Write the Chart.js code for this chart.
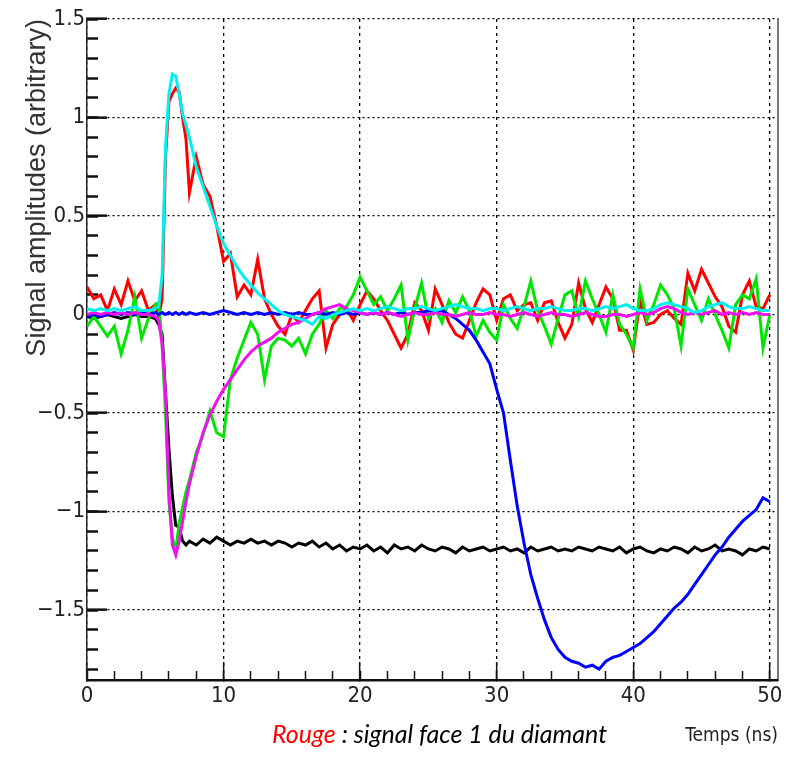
<!DOCTYPE html>
<html>
<head>
<meta charset="utf-8">
<title>Signal amplitudes</title>
<script src="https://cdn.jsdelivr.net/npm/chart.js@4.4.1/dist/chart.umd.min.js"></script>
<style>
  body { margin: 0; background: #fff; }
  #wrap { position: relative; width: 789px; height: 757px; }
  #caption {
    position: absolute; left: 272px; top: 718px;
    font-family: Lato, 'Open Sans', sans-serif; font-style: italic;
    font-size: 25px; line-height: 30px; color: #000; white-space: nowrap;
  }
  #caption .rouge { color: #ff0000; }
</style>
</head>
<body>
<div id="wrap">
  <canvas id="chart" width="789" height="757"></canvas>
  <div id="caption"><span class="rouge">Rouge</span> : signal face 1 du diamant</div>
</div>
<script>
// time in ns (finer around the edge at 5-7.5 ns)
var temps = [0, 0.5, 1, 1.5, 2, 2.5, 3, 3.5, 4, 4.5, 5,
  5.25, 5.5, 5.75, 6, 6.25, 6.5, 6.75, 7, 7.25, 7.5,
  8, 8.5, 9, 9.5, 10, 10.5, 11, 11.5, 12, 12.5, 13, 13.5, 14, 14.5, 15, 15.5, 16, 16.5, 17, 17.5, 18, 18.5, 19, 19.5, 20,
  20.5, 21, 21.5, 22, 22.5, 23, 23.5, 24, 24.5, 25,
  25.5, 26, 26.5, 27, 27.5, 28, 28.5, 29, 29.5, 30,
  30.5, 31, 31.5, 32, 32.5, 33, 33.5, 34, 34.5, 35,
  35.5, 36, 36.5, 37, 37.5, 38, 38.5, 39, 39.5, 40,
  40.5, 41, 41.5, 42, 42.5, 43, 43.5, 44, 44.5, 45,
  45.5, 46, 46.5, 47, 47.5, 48, 48.5, 49, 49.5, 50];

var rouge = [0.14, 0.08, 0.10, 0.02, 0.13, 0.05, 0.17, 0.07, 0.12, 0.02, 0.05,
  -0.01, 0.08, 0.80, 1.08, 1.12, 1.15, 1.13, 1.00, 0.89, 0.62,
  0.80, 0.66, 0.60, 0.45, 0.27, 0.31, 0.09, 0.15, 0.10, 0.28, 0.08, 0.00, -0.06, -0.10, 0.00, -0.04, 0.02, 0.08, 0.12, -0.17, -0.05, 0.00, 0.03, -0.03, 0.05,
  0.12, 0.08, 0.02, -0.03, -0.10, -0.17, -0.10, 0.06, 0.02, -0.08,
  0.13, 0.05, -0.04, -0.10, -0.12, -0.03, 0.06, 0.13, 0.10, -0.03,
  0.08, 0.10, 0.02, 0.05, 0.06, -0.03, 0.06, 0.07, -0.04, -0.12,
  -0.05, 0.16, 0.03, -0.04, 0.05, 0.14, 0.08, -0.08, -0.08, -0.18,
  0.07, -0.05, -0.04, 0.00, 0.02, -0.02, -0.05, 0.21, 0.12, 0.23,
  0.16, 0.09, 0.04, -0.06, -0.09, 0.10, 0.17, 0.04, 0.03, 0.10];

var vert = [-0.06, -0.01, -0.06, -0.11, -0.06, -0.20, -0.08, 0.09, -0.12, -0.02, 0.05,
  0.06, -0.15, -0.50, -0.95, -1.13, -1.20, -1.06, -0.98, -0.90, -0.84,
  -0.70, -0.61, -0.49, -0.60, -0.62, -0.33, -0.22, -0.13, -0.04, -0.10, -0.33, -0.16, -0.12, -0.13, -0.16, -0.12, -0.20, -0.10, -0.05, 0.02, -0.02, 0.03, 0.04, 0.10, 0.19,
  0.12, 0.05, 0.09, 0.02, 0.08, 0.15, -0.13, 0.03, 0.16, -0.02,
  0.03, -0.04, 0.07, 0.01, 0.09, 0.02, -0.11, -0.03, -0.09, -0.13,
  0.05, -0.02, -0.07, 0.04, 0.17, 0.02, -0.06, -0.15, -0.02, 0.10,
  0.12, -0.01, 0.17, 0.08, 0.00, -0.09, 0.10, -0.05, -0.10, -0.17,
  0.13, -0.03, 0.05, 0.15, 0.10, 0.03, -0.16, 0.13, 0.05, -0.03,
  0.08, 0.00, -0.08, -0.17, 0.05, 0.10, 0.08, 0.18, -0.17, 0.00];

var noir = [-0.01, -0.02, -0.01, 0.00, -0.01, -0.02, -0.01, 0.00, -0.01, -0.01, -0.02,
  -0.05, -0.10, -0.40, -0.68, -0.92, -1.07, -1.08, -1.15, -1.17, -1.15,
  -1.17, -1.14, -1.16, -1.13, -1.15, -1.17, -1.15, -1.16, -1.14, -1.16, -1.15, -1.17, -1.15, -1.16, -1.18, -1.16, -1.17, -1.15, -1.18, -1.16, -1.19, -1.17, -1.20, -1.18, -1.19,
  -1.17, -1.20, -1.18, -1.21, -1.17, -1.19, -1.18, -1.20, -1.17, -1.19,
  -1.20, -1.18, -1.19, -1.21, -1.18, -1.20, -1.19, -1.18, -1.20, -1.19,
  -1.18, -1.20, -1.19, -1.21, -1.18, -1.20, -1.19, -1.18, -1.20, -1.19,
  -1.20, -1.18, -1.19, -1.20, -1.18, -1.19, -1.20, -1.18, -1.21, -1.19,
  -1.18, -1.20, -1.21, -1.19, -1.20, -1.18, -1.19, -1.21, -1.18, -1.20,
  -1.19, -1.17, -1.20, -1.19, -1.20, -1.22, -1.19, -1.20, -1.18, -1.19];

var bleu = [-0.01, 0.00, -0.01, 0.00, 0.01, 0.00, 0.01, 0.00, 0.01, 0.00, 0.01,
  0.00, 0.01, 0.00, 0.01, 0.00, 0.01, 0.00, 0.01, 0.00, 0.01,
  0.00, 0.01, 0.00, 0.01, 0.02, 0.01, 0.00, 0.01, 0.00, 0.01, 0.00, 0.01, 0.00, 0.01, 0.00, 0.01, 0.00, 0.00, 0.01, 0.00, 0.01, 0.00, 0.01, 0.00, 0.01,
  0.00, 0.01, 0.00, 0.01, 0.00, 0.01, 0.00, 0.01, 0.01, 0.02,
  0.01, 0.02, 0.00, -0.02, -0.05, -0.08, -0.13, -0.19, -0.25, -0.38,
  -0.50, -0.74, -0.97, -1.16, -1.32, -1.44, -1.55, -1.64, -1.70, -1.74,
  -1.76, -1.77, -1.79, -1.78, -1.80, -1.76, -1.74, -1.73, -1.71, -1.69,
  -1.67, -1.64, -1.61, -1.57, -1.53, -1.49, -1.46, -1.42, -1.37, -1.32,
  -1.27, -1.22, -1.18, -1.13, -1.09, -1.05, -1.02, -0.99, -0.93, -0.95];

var magenta = [0.00, 0.01, 0.00, 0.01, 0.00, 0.01, 0.00, 0.01, 0.00, 0.00, -0.01,
  -0.03, -0.15, -0.40, -0.90, -1.17, -1.22, -1.15, -1.05, -0.95, -0.86,
  -0.72, -0.60, -0.51, -0.44, -0.38, -0.33, -0.28, -0.23, -0.19, -0.16, -0.14, -0.12, -0.09, -0.07, -0.05, -0.04, -0.02, 0.00, 0.01, 0.03, 0.04, 0.05, 0.03, 0.02, 0.01,
  0.00, 0.01, 0.00, 0.01, 0.00, -0.01, 0.00, 0.01, 0.00, 0.00,
  0.01, 0.00, 0.00, -0.01, 0.00, 0.01, 0.00, 0.00, 0.01, 0.00,
  0.00, -0.01, 0.00, 0.01, 0.00, -0.01, 0.00, 0.01, 0.00, 0.00,
  -0.01, 0.00, 0.01, 0.00, -0.01, -0.01, 0.00, 0.00, -0.01, 0.00,
  0.01, 0.00, 0.01, 0.03, 0.04, 0.03, 0.01, 0.00, 0.01, 0.00,
  0.01, 0.02, 0.00, 0.01, 0.00, 0.01, 0.00, 0.01, 0.00, 0.00];

var cyan = [0.03, 0.02, 0.03, 0.02, 0.03, 0.02, 0.03, 0.04, 0.02, 0.02, 0.03,
  0.04, 0.20, 0.85, 1.12, 1.22, 1.21, 1.12, 1.02, 0.96, 0.90,
  0.75, 0.65, 0.55, 0.45, 0.36, 0.30, 0.24, 0.19, 0.15, 0.11, 0.08, 0.05, 0.02, 0.00, -0.01, -0.02, -0.03, -0.05, -0.01, -0.02, 0.00, 0.01, 0.02, 0.03, 0.02,
  0.03, 0.02, 0.03, 0.04, 0.03, 0.02, 0.03, 0.03, 0.04, 0.03,
  0.02, 0.03, 0.04, 0.05, 0.04, 0.03, 0.03, 0.02, 0.03, 0.03,
  0.02, 0.03, 0.04, 0.03, 0.02, 0.03, 0.03, 0.04, 0.03, 0.02,
  0.02, 0.03, 0.03, 0.02, 0.03, 0.04, 0.03, 0.04, 0.05, 0.03,
  0.02, 0.02, 0.03, 0.05, 0.06, 0.05, 0.04, 0.03, 0.01, 0.02,
  0.04, 0.05, 0.06, 0.04, 0.03, 0.03, 0.04, 0.03, 0.02, 0.02];

var xMin = 0, xMax = 50.6;
var yMin = -1.855, yMax = 1.5;
var tickFont = { family: "'Liberation Sans Narrow', 'DejaVu Sans Condensed', sans-serif", size: 22 };

function points(values) {
  return temps.map(function (t, i) { return { x: t, y: values[i] }; });
}

function serie(label, values, color) {
  return {
    label: label,
    data: points(values),
    borderColor: color,
    borderWidth: 3,
    pointRadius: 0,
    tension: 0,
    fill: false
  };
}

function fmtY(v) {
  if (Math.abs(v) < 1e-9) return '0';
  return v < 0 ? '\u2212' + Math.abs(v) : String(v);
}

// keep the plot frame where it is in the picture
function fixWidth(w) {
  return function (s) { s.width = w; s.paddingTop = 0; s.paddingBottom = 0; };
}
function fixHeight(h) {
  return function (s) { s.height = h; s.paddingLeft = 0; s.paddingRight = 0; };
}

var ctx = document.getElementById('chart').getContext('2d');
var chart = new Chart(ctx, {
  type: 'line',
  data: {
    // first dataset is drawn on top
    datasets: [
      serie('cyan', cyan, '#00f0f0'),
      serie('magenta', magenta, '#f010f0'),
      serie('bleu', bleu, '#0000ff'),
      serie('vert', vert, '#00e600'),
      serie('rouge', rouge, '#ff0000'),
      serie('noir', noir, '#000000')
    ]
  },
  options: {
    responsive: false,
    animation: false,
    devicePixelRatio: 1,
    layout: { padding: { left: 0, right: 11, top: 19, bottom: 0 } },
    plugins: {
      legend: { display: false },
      tooltip: { enabled: false }
    },
    scales: {
      xMinor: {
        type: 'linear', position: 'bottom', weight: 0, min: xMin, max: xMax,
        ticks: { display: false, stepSize: 2, includeBounds: false },
        grid: { drawOnChartArea: false, tickLength: -9, tickWidth: 1.5, tickColor: '#111' },
        border: { display: false },
        afterFit: fixHeight(0)
      },
      yMinor: {
        type: 'linear', position: 'left', weight: 0, min: yMin, max: yMax,
        ticks: { display: false, stepSize: 0.1, includeBounds: false },
        grid: { drawOnChartArea: false, tickLength: -11, tickWidth: 2.5, tickColor: '#111' },
        border: { display: false },
        afterFit: fixWidth(0)
      },
      yRight: {
        type: 'linear', position: 'right', weight: 0, min: yMin, max: yMax,
        ticks: { display: false },
        grid: { display: false, drawTicks: false },
        border: { display: true, color: '#777', width: 2 },
        afterFit: fixWidth(0)
      },
      x: {
        type: 'linear', position: 'bottom', weight: 1, min: xMin, max: xMax,
        ticks: {
          stepSize: 10, includeBounds: false, padding: 21, autoSkip: false, maxRotation: 0,
          color: '#222', font: tickFont
        },
        grid: { color: '#000', lineWidth: 1.3, tickLength: -18, tickWidth: 1.5, tickColor: '#111' },
        border: { display: true, color: '#111', width: 2.5, dash: [3, 4] },
        title: {
          display: true, text: 'Temps (ns)', align: 'end', color: '#222',
          font: { family: tickFont.family, size: 19 },
          padding: { top: 0, bottom: 10 }
        },
        afterFit: fixHeight(77)
      },
      y: {
        type: 'linear', position: 'left', weight: 1, min: yMin, max: yMax,
        ticks: {
          stepSize: 0.5, includeBounds: false, padding: 22, autoSkip: false,
          color: '#222', font: tickFont, callback: fmtY
        },
        grid: { color: '#000', lineWidth: 1.3, tickLength: -20, tickWidth: 2.5, tickColor: '#111' },
        border: { display: true, color: '#222', width: 1.5, dash: [2, 3] },
        title: {
          display: true, text: 'Signal amplitudes (arbitrary)', align: 'end', color: '#333',
          font: { family: "'Liberation Sans', Arial, sans-serif", size: 27 },
          padding: { top: 21, bottom: 0 }
        },
        afterFit: fixWidth(87)
      }
    }
  }
});
</script>
</body>
</html>
